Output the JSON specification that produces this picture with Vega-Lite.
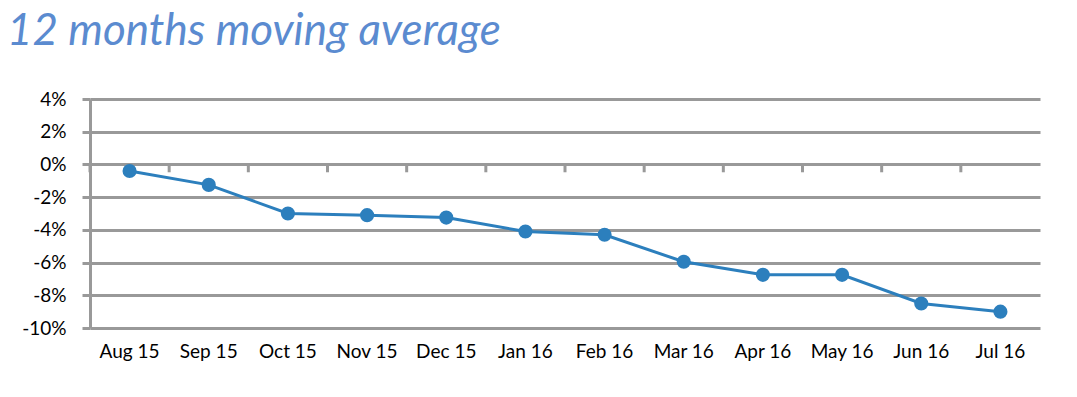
{
  "$schema": "https://vega.github.io/schema/vega-lite/v6.json",
  "autosize": "none",
  "width": 950,
  "height": 229,
  "padding": {"left": 90, "top": 99, "right": 37, "bottom": 70},
  "background": "white",
  "title": {
    "text": "12 months moving average",
    "anchor": "start",
    "frame": "group",
    "dx": -83,
    "dy": 13,
    "offset": 14,
    "font": "Lato",
    "fontStyle": "italic",
    "fontWeight": "normal",
    "fontSize": 44,
    "color": "#5B8BD0",
    "baseline": "alphabetic"
  },
  "config": {
    "view": {"stroke": null},
    "axis": {"labelFont": "Lato", "labelFontSize": 19, "labelColor": "#000000"}
  },
  "data": {
    "values": [
      {"month": "Aug 15", "v": -0.004},
      {"month": "Sep 15", "v": -0.0125},
      {"month": "Oct 15", "v": -0.030},
      {"month": "Nov 15", "v": -0.031},
      {"month": "Dec 15", "v": -0.0325},
      {"month": "Jan 16", "v": -0.041},
      {"month": "Feb 16", "v": -0.043},
      {"month": "Mar 16", "v": -0.0595},
      {"month": "Apr 16", "v": -0.0675},
      {"month": "May 16", "v": -0.0675},
      {"month": "Jun 16", "v": -0.085},
      {"month": "Jul 16", "v": -0.090}
    ]
  },
  "encoding": {
    "x": {
      "field": "month", "type": "ordinal", "sort": null,
      "scale": {"paddingInner": 0, "paddingOuter": 0},
      "axis": {"title": null, "labelAngle": 0, "domain": false, "ticks": false, "labelPadding": 14, "grid": false, "bandPosition": 0.5}
    },
    "y": {
      "field": "v", "type": "quantitative",
      "scale": {"domain": [-0.1, 0.04], "nice": false},
      "axis": {
        "title": null, "values": [-0.1, -0.08, -0.06, -0.04, -0.02, 0, 0.02, 0.04],
        "labelExpr": "replace(format(datum.value, '.0%'), '\u2212', '-')",
        "labelOverlap": false, "labelFlush": false,
        "domainColor": "#999999", "domainWidth": 3,
        "tickColor": "#999999", "tickWidth": 3, "tickSize": 8,
        "grid": true, "gridColor": "#999999", "gridWidth": 3, "gridOpacity": 1,
        "labelPadding": 16
      }
    }
  },
  "layer": [
    {
      "mark": {"type": "line", "color": "#2C7FBD", "strokeWidth": 3}
    },
    {
      "mark": {"type": "circle", "color": "#2C7FBD", "size": 200, "opacity": 1}
    },
    {
      "mark": {"type": "rule", "color": "#999999", "strokeWidth": 3},
      "encoding": {
        "x": {"field": "month", "type": "ordinal", "sort": null, "bandPosition": 0},
        "y": {"datum": 0},
        "y2": {"datum": -0.0048}
      }
    }
  ]
}
